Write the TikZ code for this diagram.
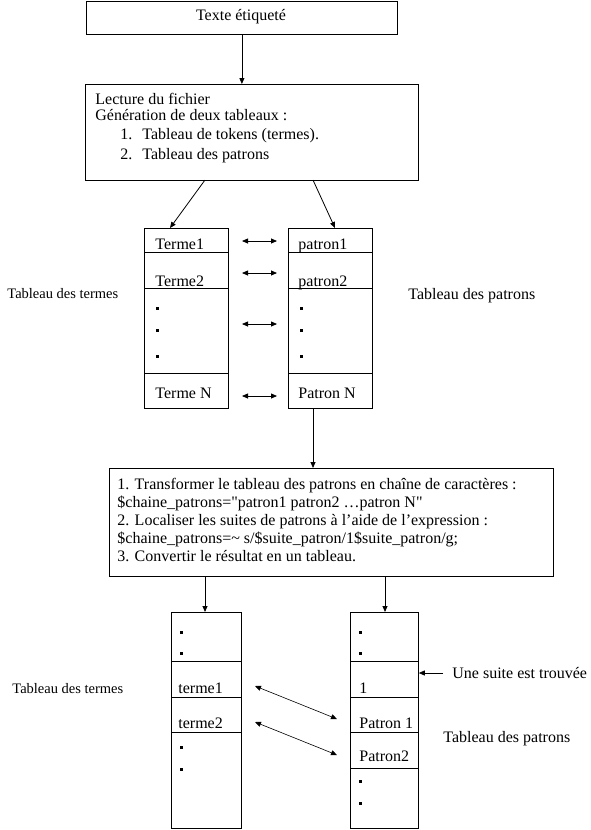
\documentclass[tikz,border=0pt]{standalone}
\usepackage{fontspec}
\setmainfont{Liberation Serif}
\usetikzlibrary{arrows.meta}
\begin{document}
\begin{tikzpicture}[x=1pt,y=-1pt, line width=0.8pt,
  box/.style={draw, rectangle, anchor=north west, inner sep=0pt},
  arr/.style={-{Triangle[length=6pt,width=5pt]}},
  darr/.style={{Triangle[length=6pt,width=5pt]}-{Triangle[length=6pt,width=5pt]}},
  txt/.style={anchor=base west, inner sep=0pt, font=\fontsize{16}{19}\selectfont},
  lbl/.style={anchor=base west, inner sep=0pt, font=\fontsize{14.5}{17}\selectfont},
  sep/.style={line width=0.8pt}]
\useasboundingbox (0,0) rectangle (590,830);
% top box
\node[box, minimum width=311pt, minimum height=33pt] (b1) at (86,1) {};
\node[inner sep=0pt, font=\fontsize{16}{19}\selectfont] (t1) at (241,17) {Texte étiqueté};
% second box
\node[box, minimum width=333pt, minimum height=96pt] (b2) at (85,84) {};
\node[txt] (l1) at (95,104) {Lecture du fichier};
\node[txt] (l2) at (95,120) {Génération de deux tableaux :};
\node[txt] (l3n) at (120,139) {1.};
\node[txt] (l3) at (142,139) {Tableau de tokens (termes).};
\node[txt] (l4n) at (120,159) {2.};
\node[txt] (l4) at (142,159) {Tableau des patrons};
\draw[arr] (b1.south) -- (b1.south |- b2.north);
% tables top
\node[box, minimum width=84pt, minimum height=180pt] (tt) at (144,228) {};
\node[box, minimum width=84pt, minimum height=180pt] (tp) at (288,228) {};
\foreach \yy in {252,288,373} {
  \draw[sep] (tt.west |- 0,\yy) -- (tt.east |- 0,\yy);
  \draw[sep] (tp.west |- 0,\yy) -- (tp.east |- 0,\yy);
}
\coordinate (b2a) at (205,180);
\coordinate (b2b) at (313,180);
\coordinate (tta) at (170,228);
\coordinate (tpa) at (335,228);
\draw[arr] (b2a) -- (tta);
\draw[arr] (b2b) -- (tpa);
\node[txt] (te1) at (155,249) {Terme1};
\node[txt] (te2) at (155,286) {Terme2};
\node[txt] (teN) at (155,398) {Terme N};
\node[txt] (pa1) at (298,249) {patron1};
\node[txt] (pa2) at (298,286) {patron2};
\node[txt] (paN) at (298,398) {Patron N};
\foreach \yy in {307,329,355} {
  \fill (156,\yy) rectangle ++(3,3);
  \fill (300,\yy) rectangle ++(3,3);
}
\foreach \yy/\n in {241/a,273/b,324/c,396/d} {
  \coordinate (dl\n) at (242,\yy);
  \coordinate (dr\n) at (277,\yy);
  \draw[darr] (dl\n) -- (dr\n);
}
\node[lbl] (lt1) at (7,298) {Tableau des termes};
\node[txt] (lp1) at (408,299) {Tableau des patrons};
% third box
\node[box, minimum width=444pt, minimum height=108pt] (b3) at (109,468) {};
\draw[arr] (tp.south -| 313,0) -- (b3.north -| 313,0);
\node[txt] (m1) at (117,489) {1. Transformer le tableau des patrons en chaîne de caractères :};
\node[txt] (m2) at (117,507) {\$chaine\_patrons=\textquotedbl patron1 patron2 …patron N\textquotedbl};
\node[txt] (m3) at (117,525) {2. Localiser les suites de patrons à l’aide de l’expression :};
\node[txt] (m4) at (117,543) {\$chaine\_patrons=\char`~{} s/\$suite\_patron/1\$suite\_patron/g;};
\node[txt] (m5) at (117,561) {3. Convertir le résultat en un tableau.};
% bottom tables
\node[box, minimum width=70pt, minimum height=216pt] (bt) at (171,612) {};
\node[box, minimum width=68pt, minimum height=216pt] (bp) at (350,612) {};
\foreach \yy in {661,697,732} {
  \draw[sep] (bt.west |- 0,\yy) -- (bt.east |- 0,\yy);
}
\foreach \yy in {661,697,732,768} {
  \draw[sep] (bp.west |- 0,\yy) -- (bp.east |- 0,\yy);
}
\draw[arr] (b3.south -| 205,0) -- (bt.north -| 205,0);
\draw[arr] (b3.south -| 385,0) -- (bp.north -| 385,0);
\foreach \yy in {631,652,746,768} {
  \fill (180,\yy) rectangle ++(3,3);
}
\foreach \yy in {631,652,780,802} {
  \fill (359,\yy) rectangle ++(3,3);
}
\node[txt] (bt1) at (178,693) {terme1};
\node[txt] (bt2) at (178,728) {terme2};
\node[txt] (bp0) at (359,693) {1};
\node[txt] (bp1) at (359,728) {Patron 1};
\node[txt] (bp2) at (359,761) {Patron2};
\coordinate (x1a) at (255,686);
\coordinate (x1b) at (337,719);
\coordinate (x2a) at (255,722);
\coordinate (x2b) at (337,755);
\draw[darr, line width=0.6pt] (x1a) -- (x1b);
\draw[darr, line width=0.6pt] (x2a) -- (x2b);
\node[txt] (found) at (452,678) {Une suite est trouvée};
\coordinate (fa) at (443,673);
\draw[arr] (fa) -- (bp.east |- fa);
\node[lbl] (lt2) at (12,693) {Tableau des termes};
\node[txt] (lp2) at (443,742) {Tableau des patrons};
\end{tikzpicture}
\end{document}
